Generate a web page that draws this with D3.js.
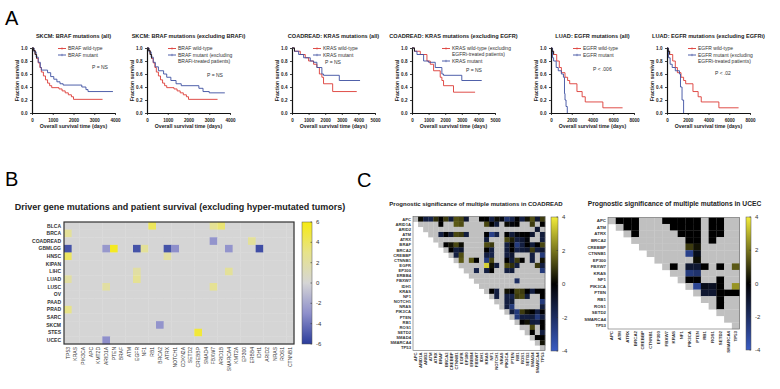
<!DOCTYPE html>
<html>
<head>
<meta charset="utf-8">
<script src="https://cdn.jsdelivr.net/npm/d3@7"></script>
<style>
  body { margin: 0; background: #fff; }
  text { font-family: "Liberation Sans", Arial, sans-serif; }
</style>
</head>
<body>
<svg id="fig" width="780" height="389"></svg>
<script>
// ---------- panel A: survival curves, [days, fraction] ----------
var skcmAllWt = [[0,1],[80,0.96],[150,0.9],[220,0.84],[300,0.77],[380,0.7],[450,0.63],[550,0.57],[650,0.51],[750,0.46],[850,0.42],[950,0.39],[1300,0.37],[1450,0.34],[1600,0.31],[1750,0.28],[1900,0.25],[2000,0.21],[3400,0.21]];
var skcmAllMut = [[0,1],[100,0.94],[200,0.86],[300,0.78],[400,0.7],[450,0.66],[750,0.62],[900,0.56],[1050,0.52],[1200,0.48],[1350,0.45],[1500,0.43],[2400,0.4],[2600,0.36],[2700,0.33],[3900,0.33]];
var skcmExWt = [[0,1],[80,0.96],[150,0.9],[220,0.84],[300,0.77],[380,0.7],[450,0.63],[550,0.57],[650,0.51],[750,0.46],[850,0.42],[950,0.39],[1300,0.37],[1450,0.34],[1600,0.31],[1750,0.28],[1900,0.25],[2000,0.21],[3400,0.21]];
var skcmExMut = [[0,1],[100,0.94],[200,0.86],[300,0.78],[400,0.71],[550,0.65],[800,0.6],[950,0.55],[1150,0.5],[1400,0.45],[1650,0.42],[2500,0.38],[2700,0.33],[3000,0.31],[3750,0.31]];
var coadAllWt = [[0,1],[150,0.95],[500,0.9],[800,0.85],[1000,0.8],[1300,0.75],[1500,0.7],[1650,0.6],[1800,0.55],[1900,0.45],[2450,0.33],[3900,0.33]];
var coadAllMut = [[0,1],[150,0.95],[400,0.9],[700,0.85],[1100,0.8],[1300,0.78],[1500,0.7],[1800,0.6],[1900,0.58],[2850,0.5],[4100,0.5]];
var coadExWt = [[0,1],[150,0.95],[500,0.9],[900,0.8],[1100,0.75],[1300,0.65],[1700,0.55],[1800,0.5],[1900,0.42],[2500,0.32],[3800,0.32]];
var coadExMut = [[0,1],[150,0.95],[300,0.9],[700,0.8],[1000,0.78],[1400,0.7],[1800,0.6],[1900,0.58],[3000,0.5],[4200,0.5]];
var luadAllWt = [[0,1],[100,0.95],[250,0.9],[550,0.8],[800,0.7],[1000,0.62],[1350,0.55],[1600,0.5],[1800,0.45],[2500,0.33],[3000,0.25],[3300,0.17],[5000,0.08],[6900,0.08]];
var luadAllMut = [[0,1],[150,0.85],[250,0.8],[500,0.7],[700,0.65],[1000,0.6],[1200,0.55],[1300,0.3],[1350,0.2],[1450,0.1],[1570,0]];
var luadExWt = [[0,1],[100,0.95],[250,0.9],[550,0.8],[800,0.7],[1000,0.62],[1350,0.55],[1600,0.5],[1800,0.45],[2500,0.33],[3000,0.25],[3300,0.17],[5000,0.08],[6900,0.08]];
var luadExMut = [[0,1],[150,0.85],[300,0.75],[500,0.7],[800,0.65],[1200,0.6],[1300,0.4],[1450,0.2],[1600,0]];

var kmTitles = ['SKCM: BRAF mutations (all)', 'SKCM: BRAF mutations (excluding BRAFi)', 'COADREAD: KRAS mutations (all)', 'COADREAD: KRAS mutations (excluding EGFR)', 'LUAD: EGFR mutations (all)', 'LUAD: EGFR mutations (excluding EGFRi)'];
var kmMaxDays = [4000, 4000, 5000, 5000, 8000, 8000];
var kmTickStep = [1000, 1000, 1000, 1000, 2000, 2000];
var kmPValues = ['P = NS', 'P = NS', 'P = NS', 'P = NS', 'P < .006', 'P < .02'];
var kmRedLabels = [['BRAF wild-type'], ['BRAF wild-type'], ['KRAS wild-type'], ['KRAS wild-type (excluding', 'EGFRi-treated patients)'], ['EGFR wild-type'], ['EGFR wild-type']];
var kmBlueLabels = [['BRAF mutant'], ['BRAF mutant (excluding', 'BRAFi-treated patients)'], ['KRAS mutant'], ['KRAS mutant'], ['EGFR mutant'], ['EGFR mutant (excluding', 'EGFRi-treated patients)']];
var kmRed = [skcmAllWt, skcmExWt, coadAllWt, coadExWt, luadAllWt, luadExWt];
var kmBlue = [skcmAllMut, skcmExMut, coadAllMut, coadExMut, luadAllMut, luadExMut];

// ---------- panel B ----------
var cancers = ['BLCA','BRCA','COADREAD','GBMLGG','HNSC','KIPAN','LIHC','LUAD','LUSC','OV','PAAD','PRAD','SARC','SKCM','STES','UCEC'];
var driverGenes = ['TP53','KRAS','PIK3CA','APC','KMT2D','ARID1A','PTEN','BRAF','ATM','EGFR','NF1','RB1','BRCA2','ATRX','NOTCH1','CDKN2A','SETD2','CREBBP','SMAD4','FBXW7','ARID1B','SMARCA4','KMT2A','EP300','ERBB4','IDH1','ARID2','NRAS','ROS1','CTNNB1'];
// [cancer, gene, score]; all other cells are 0
var driverScores = [
  ['BLCA','RB1',4.2],['BLCA','FBXW7',2.6],['BLCA','ARID1B',3.6],
  ['BRCA','TP53',2.4],
  ['COADREAD','FBXW7',-2.8],['COADREAD','ERBB4',2.4],
  ['GBMLGG','TP53',-5.2],['GBMLGG','ARID1A',-2.6],['GBMLGG','PTEN',5.6],['GBMLGG','EGFR',-5.2],['GBMLGG','NF1',2.4],
  ['GBMLGG','ATRX',-5.2],['GBMLGG','NOTCH1',-3],['GBMLGG','SMARCA4',-2.8],['GBMLGG','IDH1',-5.4],
  ['HNSC','TP53',4],['HNSC','ATRX',2],
  ['LIHC','EGFR',2],['LIHC','SMARCA4',2.4],
  ['LUAD','TP53',2],['LUAD','EGFR',2.6],
  ['LUSC','ARID1A',2],['LUSC','FBXW7',2.6],
  ['PRAD','TP53',3],
  ['SKCM','BRCA2',-2.8],
  ['STES','CREBBP',5],
  ['UCEC','ARID1A',-3]
];
var driverTicks = [6, 4, 2, 0, -2, -4, -6];

// ---------- panel C ----------
var N = null;
var coadGenes = ['APC','ARID1A','ARID2','ATM','ATRX','BRAF','BRCA2','CREBBP','CTNNB1','EGFR','EP300','ERBB4','FBXW7','IDH1','KRAS','NF1','NOTCH1','NRAS','PIK3CA','PTEN','RB1','ROS1','SETD2','SMAD4','SMARCA4','TP53'];
// row i lists the scores for columns i+1 .. end (null = not tested)
var coadPairs = [
  [0.2,-1.3,-1.5,0.8,0,1.0,-1.2,1.4,1.2,-1.0,N,N,0,0,-1.4,0.2,-0.3,-2.2,-1.5,0,-1.4,0.3,1.3,-1.0,1.0],
  [N,N,N,0,N,N,1.5,1.3,N,N,N,N,1.2,0,-1.2,N,0.2,-0.2,0,N,N,1.0,N,0],
  [N,N,N,N,N,N,N,N,N,N,N,N,N,N,N,N,N,N,N,N,N,-1.0],
  [N,-1.3,0,-1.0,1.2,1.0,-1.3,N,N,N,0,-2.8,-1.5,N,0,-1.2,-0.3,0,0,-1.0,N,-1.2],
  [N,N,N,N,N,N,N,N,N,-1.2,N,N,N,1.2,0.5,-1.3,-1.0,-0.2,N,N,-1.3],
  [0,0.3,1.2,0.2,N,N,N,N,1.3,1.0,N,N,-1.3,0,-2.5,-1.3,0,-1.2,0,1.2],
  [0,-1.3,-1.0,N,N,N,N,0,-1.3,N,N,-1.2,0,-1.5,-1.2,-1.0,1.0,-1.3,-1.0],
  [-1.3,1.3,N,N,N,N,-1.3,-1.5,N,N,-1.3,-1.0,N,N,N,-1.3,N,-2.5],
  [1.5,N,1.5,0,N,-2.5,1.2,N,N,0,-1.3,1.0,0,N,-1.3,N,0.3],
  [N,N,N,N,3.5,0.3,-1.3,N,1.2,0.8,-1.3,N,N,N,1.0,-1.3],
  [N,-1.5,N,-1.3,0,N,N,-1.3,-1.2,N,N,N,N,N,-2.5],
  [N,N,N,N,N,N,N,N,N,N,N,N,N,N],
  [N,N,N,N,N,N,N,-2.0,N,N,N,N,N],
  [N,N,N,N,N,N,N,N,N,N,N,N],
  [0,-1.3,N,0.3,0,1.2,1.0,0,-1.3,0,0],
  [-1.3,N,-1.3,-1.5,1.0,1.2,-1.2,N,N,0],
  [N,-1.3,-1.2,N,N,N,N,N,-2.5],
  [-1.3,-2.5,N,N,N,N,N,-1.3],
  [-1.3,-2.5,1.0,0.3,0,-1.3,0],
  [-2.5,-1.3,-1.3,-1.2,-2.5,-1.3],
  [0,0.3,-1.2,-1.3,0],
  [N,1.2,N,0],
  [0,N,-1.3],
  [0,0],
  [0.3],
  []
];
var ucecGenes = ['APC','ATM','ATRX','BRCA2','CREBBP','CTNNB1','EP300','FBXW7','KRAS','NF1','PIK3CA','PTEN','RB1','ROS1','SETD2','SMARCA4','TP53'];
var ucecPairs = [
  [0,0,0,N,N,N,0,0,0,0,0,N,0,0,N,N],
  [0,0,N,N,N,N,0,0,0,0,N,0,0,N,N],
  [0,N,N,N,N,N,0,0,0,N,0,0,N,N],
  [N,N,N,N,N,N,0,0,N,0,N,N,N],
  [N,N,N,N,N,1.0,0.3,N,N,N,N,N],
  [N,N,N,N,-2.8,-0.5,N,N,N,N,N],
  [N,N,N,N,0.2,N,N,N,N,N],
  [0,N,-1.0,-1.0,0,N,0,N,1.5],
  [N,-2.5,-2.2,N,N,N,N,N],
  [0,0,N,N,0,N,N],
  [-3.0,-0.5,-0.7,0,N,2.5],
  [-1.0,-1.0,0,0,0],
  [N,0,N,N],
  [0,N,N],
  [N,N],
  [N],
  []
];
var pairTicks = [4, 2, 0, -2, -4];

// ---------- drawing ----------
var svg = d3.select('#fig');

svg.append('text').attr('x', 5).attr('y', 25).attr('font-size', 20).text('A');
svg.append('text').attr('x', 5).attr('y', 186).attr('font-size', 20).text('B');
svg.append('text').attr('x', 357).attr('y', 187).attr('font-size', 20).text('C');

var kmLeft = [32, 147, 292, 412, 551, 667];
var kmLegendX = [26, 21, 21, 30, 22, 21];
var kmPPos = [[60, 67], [60, 75], [33, 62], [54, 70], [42, 69], [48, 73]];
var kmW = 83, kmTop = 48, kmBottom = 113;
var red = '#dc3b35', blue = '#3c4fa0';

kmTitles.forEach(function (title, i) {
  var left = kmLeft[i];
  var x = d3.scaleLinear().domain([0, kmMaxDays[i]]).range([left, left + kmW]);
  var y = d3.scaleLinear().domain([0, 1]).range([kmBottom, kmTop]);
  var g = svg.append('g');

  g.append('text').attr('x', left + kmW / 2).attr('y', 38).attr('text-anchor', 'middle')
    .attr('font-size', 5.6).attr('font-weight', 'bold').attr('fill', '#222').text(title);

  var line = d3.line().x(function (d) { return x(d[0]); }).y(function (d) { return y(d[1]); })
    .curve(d3.curveStepAfter);
  g.append('path').attr('d', line(kmRed[i])).attr('fill', 'none').attr('stroke', red).attr('stroke-width', 0.9);
  g.append('path').attr('d', line(kmBlue[i])).attr('fill', 'none').attr('stroke', blue).attr('stroke-width', 0.9);
  // dense censoring near the start
  g.append('path').attr('d', line(kmRed[i].filter(function (d) { return d[0] <= kmMaxDays[i] * 0.06; })))
    .attr('fill', 'none').attr('stroke', '#222').attr('stroke-width', 1);

  var xAxis = d3.axisBottom(x).tickValues(d3.range(0, kmMaxDays[i] + 1, kmTickStep[i]))
    .tickSize(2).tickSizeOuter(0).tickFormat(d3.format('d'));
  var yAxis = d3.axisLeft(y).tickValues([0, 0.2, 0.4, 0.6, 0.8, 1.0])
    .tickSize(2).tickSizeOuter(0).tickFormat(d3.format('.1f'));
  var gx = g.append('g').attr('transform', 'translate(0,' + kmBottom + ')').call(xAxis);
  var gy = g.append('g').attr('transform', 'translate(' + left + ',0)').call(yAxis);
  [gx, gy].forEach(function (a) {
    a.select('.domain').attr('stroke', '#111').attr('stroke-width', 1.2);
    a.selectAll('.tick line').attr('stroke', '#111').attr('stroke-width', 0.8);
    a.selectAll('.tick text').attr('font-size', 4.6).attr('font-weight', 'bold')
      .attr('font-family', '"Liberation Sans", Arial, sans-serif').attr('fill', '#222');
  });
  gx.selectAll('.tick text').attr('dy', '0.9em');
  gy.selectAll('.tick text').attr('dx', '0.1em');

  g.append('text').attr('x', left + kmW / 2).attr('y', 128).attr('text-anchor', 'middle')
    .attr('font-size', 5.2).attr('font-weight', 'bold').attr('fill', '#222').text('Overall survival time (days)');
  g.append('text').attr('transform', 'translate(' + (left - 13) + ',' + ((kmTop + kmBottom) / 2) + ') rotate(-90)')
    .attr('text-anchor', 'middle').attr('font-size', 5.2).attr('font-weight', 'bold').attr('fill', '#222')
    .text('Fraction survival');

  // legend
  var lx = left + kmLegendX[i], ly = 48.5;
  [[kmRedLabels[i], red], [kmBlueLabels[i], blue]].forEach(function (entry) {
    g.append('line').attr('x1', lx).attr('x2', lx + 8).attr('y1', ly).attr('y2', ly)
      .attr('stroke', entry[1]).attr('stroke-width', 0.9);
    g.append('line').attr('x1', lx + 4).attr('x2', lx + 4).attr('y1', ly - 1.2).attr('y2', ly + 1.2)
      .attr('stroke', entry[1]).attr('stroke-width', 0.6);
    entry[0].forEach(function (t, k) {
      g.append('text').attr('x', lx + 10).attr('y', ly + 1.7 + k * 6).attr('font-size', 5)
        .attr('fill', '#333').text(t);
    });
    ly += entry[0].length * 6 + 0.5;
  });
  g.append('text').attr('x', left + kmPPos[i][0]).attr('y', kmPPos[i][1] + 1.7)
    .attr('font-size', 5).attr('fill', '#333').text(kmPValues[i]);
});

// ---------- panel B heatmap ----------
var defs = svg.append('defs');
var bx = d3.scaleBand().domain(driverGenes).range([64, 294]);
var by = d3.scaleBand().domain(cancers).range([222, 344]);
var bColor = d3.scaleLinear().domain([-6, -3, 0, 3, 6])
  .range(['#2b3d9b', '#8e8fcb', '#d5d5d5', '#e7e38a', '#f6ea12']);

svg.append('text').attr('x', 180).attr('y', 210).attr('text-anchor', 'middle')
  .attr('font-size', 9).attr('font-weight', 'bold').attr('fill', '#222')
  .text('Driver gene mutations and patient survival (excluding hyper-mutated tumors)');

var scoreMap = {};
driverScores.forEach(function (d) { scoreMap[d[0] + '|' + d[1]] = d[2]; });
var bCells = [];
cancers.forEach(function (c) {
  driverGenes.forEach(function (gn) { bCells.push([c, gn, scoreMap[c + '|' + gn] || 0]); });
});
svg.append('g').selectAll('rect').data(bCells).enter().append('rect')
  .attr('x', function (d) { return bx(d[1]); })
  .attr('y', function (d) { return by(d[0]); })
  .attr('width', bx.bandwidth() + 0.3).attr('height', by.bandwidth() + 0.3)
  .attr('fill', function (d) { return bColor(d[2]); });
svg.append('rect').attr('x', 64).attr('y', 222).attr('width', 230).attr('height', 122)
  .attr('fill', 'none').attr('stroke', '#333').attr('stroke-width', 1.2);

svg.append('g').selectAll('text').data(cancers).enter().append('text')
  .attr('x', 61).attr('y', function (d) { return by(d) + by.bandwidth() / 2 + 1.8; })
  .attr('text-anchor', 'end').attr('font-size', 5).attr('font-weight', 'bold').attr('fill', '#333')
  .text(function (d) { return d; });
svg.append('g').selectAll('text').data(driverGenes).enter().append('text')
  .attr('transform', function (d) { return 'translate(' + (bx(d) + bx.bandwidth() / 2 + 1.8) + ',347) rotate(-90)'; })
  .attr('text-anchor', 'end').attr('font-size', 5).attr('fill', '#333')
  .text(function (d) { return d; });

function colorBar(id, scale, lo, hi, x, y0, y1, w, ticks) {
  var grad = defs.append('linearGradient').attr('id', id).attr('x1', 0).attr('x2', 0).attr('y1', 0).attr('y2', 1);
  d3.range(0, 1.0001, 0.05).forEach(function (t) {
    grad.append('stop').attr('offset', t).attr('stop-color', scale(hi - t * (hi - lo)));
  });
  svg.append('rect').attr('x', x).attr('y', y0).attr('width', w).attr('height', y1 - y0)
    .attr('fill', 'url(#' + id + ')').attr('stroke', '#555').attr('stroke-width', 0.5);
  var ys = d3.scaleLinear().domain([lo, hi]).range([y1, y0]);
  ticks.forEach(function (t) {
    svg.append('line').attr('x1', x + w - 1.5).attr('x2', x + w).attr('y1', ys(t)).attr('y2', ys(t))
      .attr('stroke', '#333').attr('stroke-width', 0.6);
    svg.append('text').attr('x', x + w + 4).attr('y', ys(t) + 2).attr('font-size', 6).attr('fill', '#333').text(t);
  });
}
colorBar('gradB', bColor, -6, 6, 302, 222, 344, 10, driverTicks);

// ---------- panel C heatmaps ----------
var cColor = d3.scaleLinear().domain([-4, 0, 4]).range(['#3a5cc4', '#000000', '#f2ec3a']);

function pairMap(genes, pairs, left, top, w, h, title, titleX, titleSize, labelSize) {
  var x = d3.scaleBand().domain(genes).range([left, left + w]);
  var y = d3.scaleBand().domain(genes).range([top, top + h]);
  var cells = [];
  genes.forEach(function (gi, i) {
    genes.forEach(function (gj, j) {
      if (j === i) cells.push([gi, gj, null]);
      else if (j > i) cells.push([gi, gj, pairs[i][j - i - 1]]);
    });
  });
  svg.append('g').selectAll('rect').data(cells).enter().append('rect')
    .attr('x', function (d) { return x(d[1]); }).attr('y', function (d) { return y(d[0]); })
    .attr('width', x.bandwidth() + 0.25).attr('height', y.bandwidth() + 0.25)
    .attr('fill', function (d) { return d[2] === null || d[2] === undefined ? '#c0c0c0' : cColor(d[2]); });
  svg.append('rect').attr('x', left).attr('y', top).attr('width', w).attr('height', h)
    .attr('fill', 'none').attr('stroke', '#666').attr('stroke-width', 0.6);
  svg.append('g').selectAll('text').data(genes).enter().append('text')
    .attr('x', left - 2).attr('y', function (d) { return y(d) + y.bandwidth() / 2 + labelSize * 0.36; })
    .attr('text-anchor', 'end').attr('font-size', labelSize).attr('font-weight', 'bold').attr('fill', '#333')
    .text(function (d) { return d; });
  svg.append('g').selectAll('text').data(genes).enter().append('text')
    .attr('transform', function (d) { return 'translate(' + (x(d) + x.bandwidth() / 2 + labelSize * 0.36) + ',' + (top + h + 2) + ') rotate(-90)'; })
    .attr('text-anchor', 'end').attr('font-size', labelSize).attr('font-weight', 'bold').attr('fill', '#333')
    .text(function (d) { return d; });
  svg.append('text').attr('x', titleX).attr('y', 206).attr('text-anchor', 'middle')
    .attr('font-size', titleSize).attr('font-weight', 'bold').attr('fill', '#222').text(title);
}

pairMap(coadGenes, coadPairs, 413, 216.5, 132, 134, 'Prognostic significance of multiple mutations in COADREAD', 476, 6, 4.2);
colorBar('gradC1', cColor, -4, 4, 551, 217, 351, 7, pairTicks);
pairMap(ucecGenes, ucecPairs, 608, 217.4, 131.6, 111.6, 'Prognostic significance of multiple mutations in UCEC', 674.5, 6.7, 4.4);
colorBar('gradC2', cColor, -4, 4, 746, 217, 350, 5, pairTicks);
</script>
</body>
</html>
